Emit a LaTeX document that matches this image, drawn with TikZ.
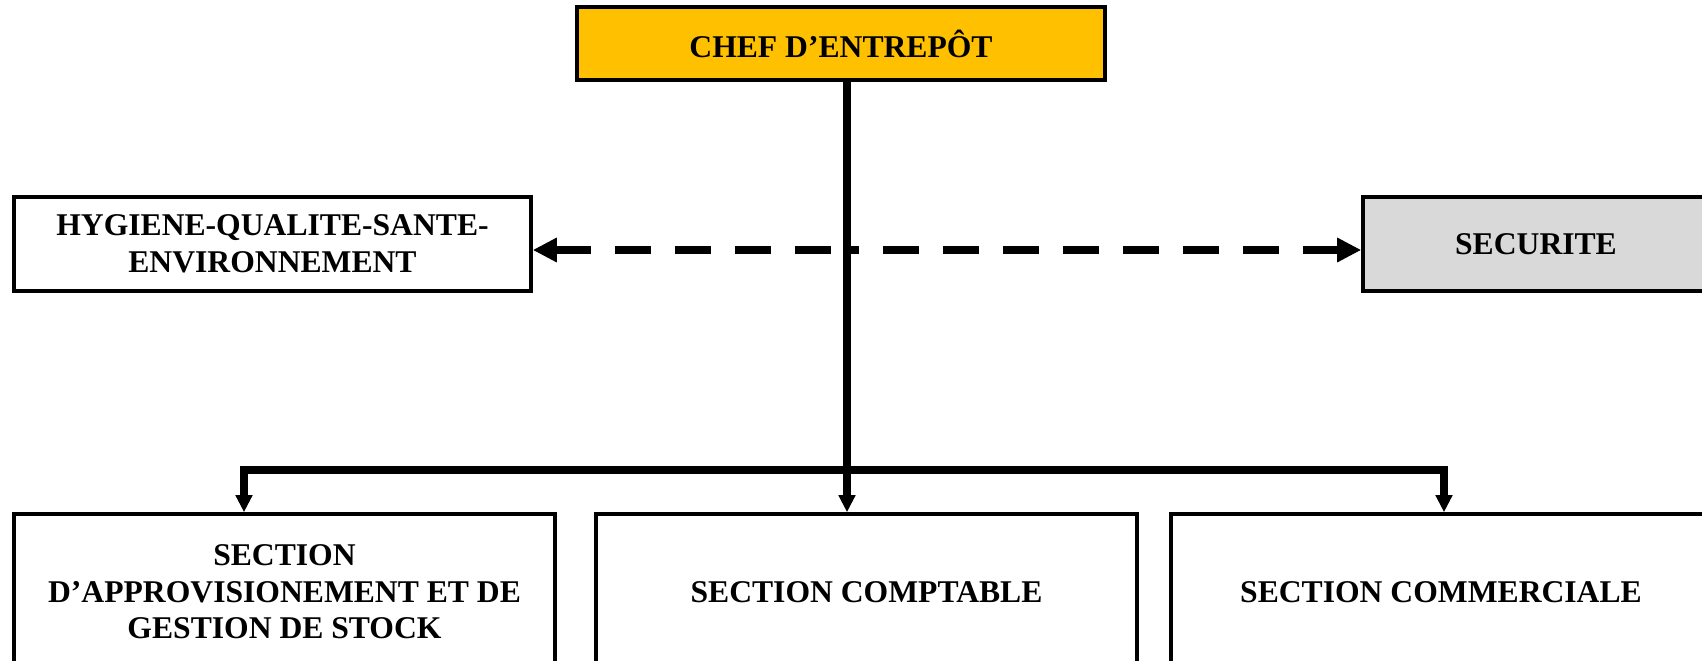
\documentclass[tikz,border=0pt]{standalone}
\usepackage{fontspec}
\setmainfont{Liberation Serif}
\usetikzlibrary{arrows.meta}
\definecolor{chefgold}{HTML}{FFC000}
\definecolor{secugray}{HTML}{D9D9D9}
\tikzset{
  unitbox/.style={draw=black, line width=1pt, align=center, inner sep=0pt,
    font=\fontsize{9}{10.4}\selectfont\bfseries},
  linkline/.style={line width=2pt, -{Triangle[length=0.17cm, width=0.16cm]}},
  sideline/.style={line width=2.1pt, dash pattern=on 0.36cm off 0.24cm,
    {Triangle[length=0.24cm, width=0.23cm]}-}
}
\begin{document}
\begin{tikzpicture}
\useasboundingbox (0,0) rectangle (17.02,-6.61);
\node[unitbox, fill=chefgold, minimum width=5.28cm, minimum height=0.73cm] (chef) at (8.41,-0.435) {CHEF D'ENTREPÔT};
\node[unitbox, fill=white, minimum width=5.17cm, minimum height=0.94cm] (hqse) at (2.725,-2.44) {HYGIENE-QUALITE-SANTE-\\ENVIRONNEMENT};
\node[unitbox, fill=secugray, minimum width=3.46cm, minimum height=0.94cm] (secu) at (15.36,-2.44) {SECURITE};
\node[unitbox, minimum width=5.41cm, minimum height=1.56cm] (appro) at (2.845,-5.92) {SECTION\\D'APPROVISIONEMENT ET DE\\GESTION DE STOCK};
\node[unitbox, minimum width=5.41cm, minimum height=1.56cm] (compta) at (8.665,-5.92) {SECTION COMPTABLE};
\node[unitbox, minimum width=5.40cm, minimum height=1.56cm] (commer) at (14.41,-5.92) {SECTION COMMERCIALE};
\coordinate (trunk) at ([xshift=0.06cm]chef.south);
\coordinate (mid) at (8.47,-2.50);
\coordinate (bus) at (8.47,-4.70);
\draw[linkline] (trunk) -- (trunk |- compta.north);
\draw[linkline] (bus) -| ([xshift=-0.405cm]appro.north);
\draw[linkline] (bus) -| ([xshift=0.03cm]commer.north);
\draw[sideline] (mid -| hqse.east) -- (mid);
\draw[sideline] (mid -| secu.west) -- (mid);
\end{tikzpicture}
\end{document}
